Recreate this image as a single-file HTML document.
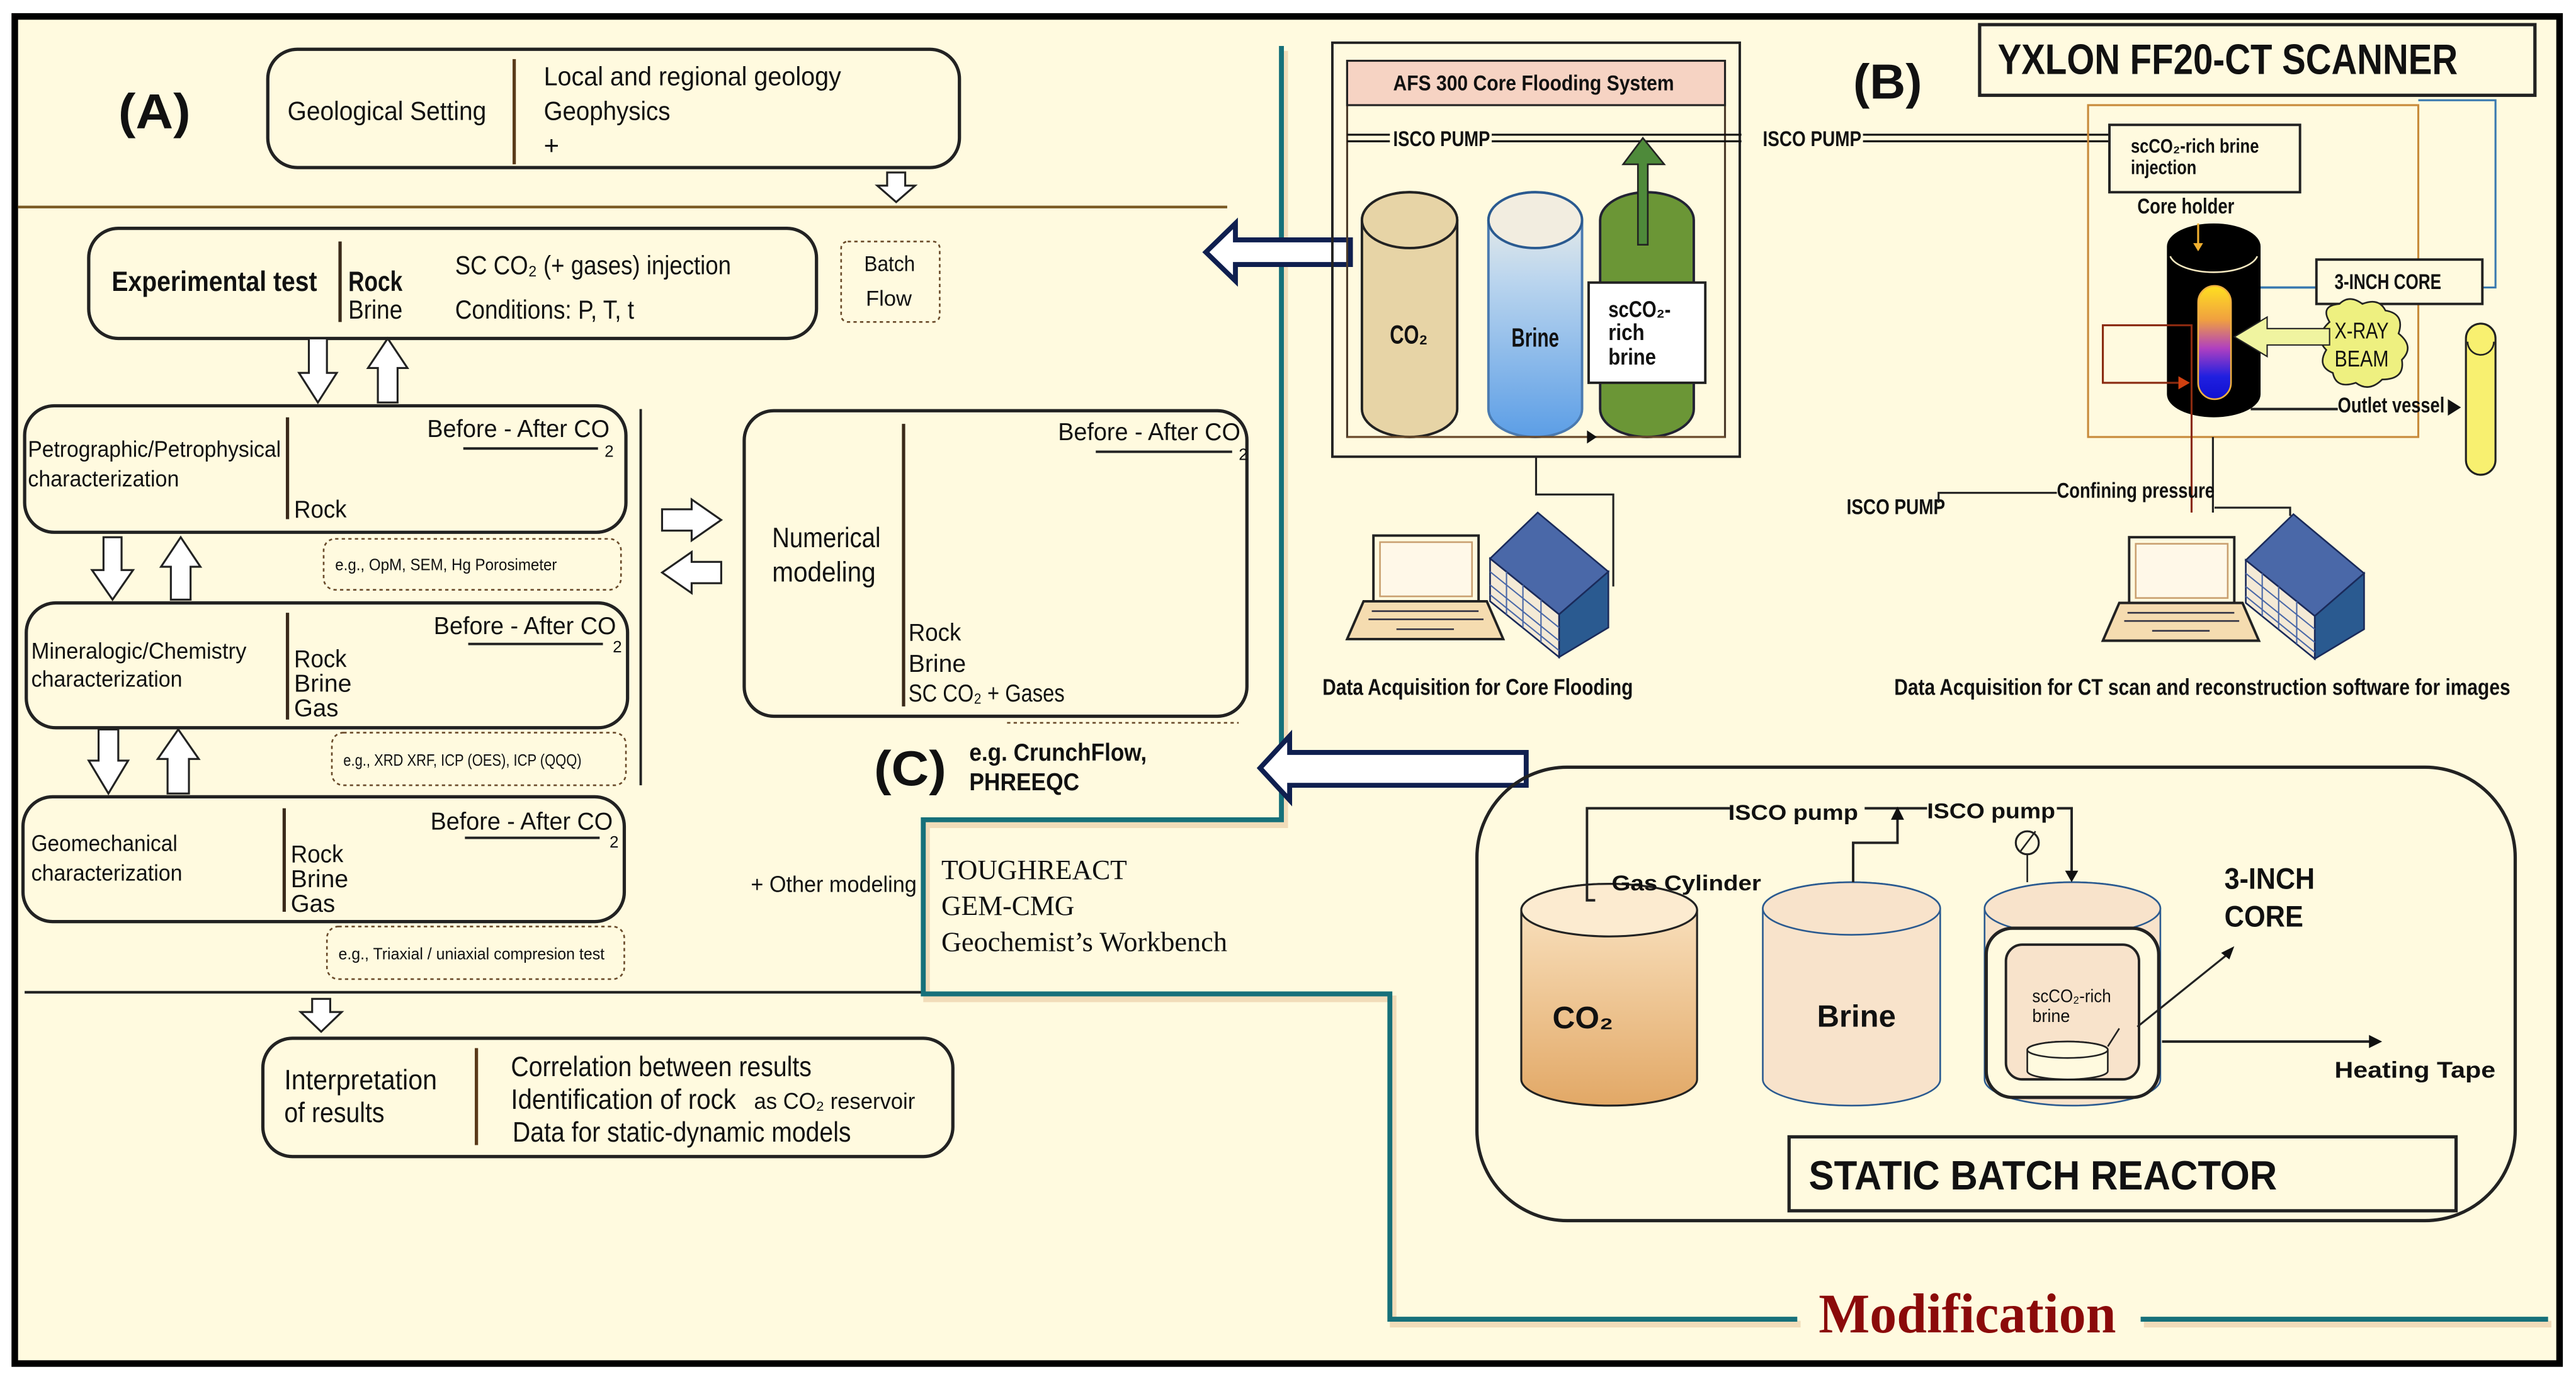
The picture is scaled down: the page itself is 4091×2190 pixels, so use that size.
<!DOCTYPE html>
<html><head><meta charset="utf-8"><style>
html,body{margin:0;padding:0;background:#fff;}
svg{display:block;}
text{font-family:"Liberation Sans",sans-serif;fill:#111;}
.s{font-family:"Liberation Serif",serif;}
.b{font-weight:bold;}
</style></head><body>
<svg xmlns="http://www.w3.org/2000/svg" width="4091" height="2190" viewBox="0 0 1568 839.4" preserveAspectRatio="none">
<defs>
<linearGradient id="gb" x1="0" y1="0" x2="0" y2="1"><stop offset="0" stop-color="#f4f1e6"/><stop offset="0.35" stop-color="#bcd6ee"/><stop offset="1" stop-color="#5c9ee6"/></linearGradient>
<linearGradient id="gc" x1="0" y1="0" x2="0" y2="1"><stop offset="0" stop-color="#fbe6c6"/><stop offset="1" stop-color="#e2a866"/></linearGradient>
<linearGradient id="gk" x1="0" y1="0" x2="0" y2="1"><stop offset="0" stop-color="#ffe020"/><stop offset="0.3" stop-color="#f0a040"/><stop offset="0.55" stop-color="#b040c0"/><stop offset="0.8" stop-color="#2020e0"/><stop offset="1" stop-color="#1010d0"/></linearGradient>
</defs>
<rect x="0" y="0" width="1568" height="839.4" fill="#ffffff"/>
<rect x="9" y="10" width="1549" height="820" fill="#fffadf" stroke="#000" stroke-width="4"/>

<!-- ===== (A) ===== -->
<text x="72" y="78" font-size="30" class="b" textLength="44" lengthAdjust="spacingAndGlyphs">(A)</text>
<rect x="163" y="30" width="421" height="72" rx="18" fill="none" stroke="#222" stroke-width="2"/>
<line x1="313" y1="36" x2="313" y2="100" stroke="#5a3a1a" stroke-width="2"/>
<text x="175" y="73" font-size="16" textLength="121" lengthAdjust="spacingAndGlyphs">Geological Setting</text>
<text x="331" y="52" font-size="16" textLength="181" lengthAdjust="spacingAndGlyphs">Local and regional geology</text>
<text x="331" y="73" font-size="16" textLength="77" lengthAdjust="spacingAndGlyphs">Geophysics</text>
<text x="331" y="94" font-size="16">+</text>
<polygon points="540,105 551,105 551,113 557,113 545.5,123 534,113 540,113" fill="#fff" stroke="#222" stroke-width="1.2"/>
<line x1="11" y1="126" x2="747" y2="126" stroke="#7a5a25" stroke-width="1.6"/>

<!-- Experimental test -->
<rect x="54" y="139" width="443" height="67" rx="18" fill="none" stroke="#222" stroke-width="2"/>
<line x1="207" y1="147" x2="207" y2="196" stroke="#3a2a1a" stroke-width="2"/>
<text x="68" y="177" font-size="17" class="b" textLength="125" lengthAdjust="spacingAndGlyphs">Experimental test</text>
<text x="212" y="177" font-size="17" class="b" textLength="33" lengthAdjust="spacingAndGlyphs">Rock</text>
<text x="212" y="194" font-size="16" textLength="33" lengthAdjust="spacingAndGlyphs">Brine</text>
<text x="277" y="167" font-size="16" textLength="168" lengthAdjust="spacingAndGlyphs">SC CO₂ (+ gases) injection</text>
<text x="277" y="194" font-size="16" textLength="109" lengthAdjust="spacingAndGlyphs">Conditions: P, T, t</text>
<rect x="512" y="147" width="60" height="49" rx="4" fill="none" stroke="#6a4a2a" stroke-width="1" stroke-dasharray="2,2"/>
<text x="526" y="165" font-size="13" textLength="31" lengthAdjust="spacingAndGlyphs">Batch</text>
<text x="527" y="186" font-size="13" textLength="28" lengthAdjust="spacingAndGlyphs">Flow</text>

<polygon points="188,206 199,206 199,227 205,227 193.5,245 182,227 188,227" fill="#fff" stroke="#222" stroke-width="1.2"/>
<polygon points="230,245 242,245 242,224 248,224 236,206 224,224 230,224" fill="#fff" stroke="#222" stroke-width="1.2"/>

<!-- Petrographic -->
<rect x="15" y="247" width="366" height="77" rx="18" fill="none" stroke="#222" stroke-width="2"/>
<line x1="175" y1="254" x2="175" y2="316" stroke="#3a2a1a" stroke-width="2"/>
<text x="17" y="278" font-size="14" textLength="154" lengthAdjust="spacingAndGlyphs">Petrographic/Petrophysical</text>
<text x="17" y="296" font-size="14" textLength="92" lengthAdjust="spacingAndGlyphs">characterization</text>
<text x="179" y="315" font-size="15" textLength="32" lengthAdjust="spacingAndGlyphs">Rock</text>
<text x="260" y="266" font-size="15" textLength="111" lengthAdjust="spacingAndGlyphs">Before - After CO</text>
<line x1="282" y1="273" x2="364" y2="273" stroke="#222" stroke-width="1.5"/>
<text x="368" y="278" font-size="10">2</text>
<rect x="197" y="328" width="181" height="31" rx="7" fill="none" stroke="#6a4a2a" stroke-width="1" stroke-dasharray="2,2"/>
<text x="204" y="347" font-size="10" textLength="135" lengthAdjust="spacingAndGlyphs">e.g., OpM, SEM, Hg Porosimeter</text>

<polygon points="63,327 74,327 74,347 81,347 68.5,365 56,347 63,347" fill="#fff" stroke="#222" stroke-width="1.2"/>
<polygon points="104,365 116,365 116,345 122,345 110,327 98,345 104,345" fill="#fff" stroke="#222" stroke-width="1.2"/>

<!-- Mineralogic -->
<rect x="16" y="367" width="366" height="76" rx="18" fill="none" stroke="#222" stroke-width="2"/>
<line x1="175" y1="373" x2="175" y2="438" stroke="#3a2a1a" stroke-width="2"/>
<text x="19" y="401" font-size="14" textLength="131" lengthAdjust="spacingAndGlyphs">Mineralogic/Chemistry</text>
<text x="19" y="418" font-size="14" textLength="92" lengthAdjust="spacingAndGlyphs">characterization</text>
<text x="179" y="406" font-size="15" textLength="32" lengthAdjust="spacingAndGlyphs">Rock</text>
<text x="179" y="421" font-size="15" textLength="35" lengthAdjust="spacingAndGlyphs">Brine</text>
<text x="179" y="436" font-size="15" textLength="27" lengthAdjust="spacingAndGlyphs">Gas</text>
<text x="264" y="386" font-size="15" textLength="111" lengthAdjust="spacingAndGlyphs">Before - After CO</text>
<line x1="285" y1="392" x2="367" y2="392" stroke="#222" stroke-width="1.5"/>
<text x="373" y="397" font-size="10">2</text>
<rect x="202" y="446" width="179" height="32" rx="7" fill="none" stroke="#6a4a2a" stroke-width="1" stroke-dasharray="2,2"/>
<text x="209" y="466" font-size="10" textLength="145" lengthAdjust="spacingAndGlyphs">e.g., XRD XRF, ICP (OES), ICP (QQQ)</text>
<line x1="390" y1="249" x2="390" y2="478" stroke="#222" stroke-width="1.5"/>

<polygon points="60,444 72,444 72,463 78,463 66,483 54,463 60,463" fill="#fff" stroke="#222" stroke-width="1.2"/>
<polygon points="102,483 115,483 115,462 121,462 108.5,444 96,462 102,462" fill="#fff" stroke="#222" stroke-width="1.2"/>

<!-- Geomechanical -->
<rect x="14" y="485" width="366" height="76" rx="18" fill="none" stroke="#222" stroke-width="2"/>
<line x1="173" y1="492" x2="173" y2="555" stroke="#3a2a1a" stroke-width="2"/>
<text x="19" y="518" font-size="14" textLength="89" lengthAdjust="spacingAndGlyphs">Geomechanical</text>
<text x="19" y="536" font-size="14" textLength="92" lengthAdjust="spacingAndGlyphs">characterization</text>
<text x="177" y="525" font-size="15" textLength="32" lengthAdjust="spacingAndGlyphs">Rock</text>
<text x="177" y="540" font-size="15" textLength="35" lengthAdjust="spacingAndGlyphs">Brine</text>
<text x="177" y="555" font-size="15" textLength="27" lengthAdjust="spacingAndGlyphs">Gas</text>
<text x="262" y="505" font-size="15" textLength="111" lengthAdjust="spacingAndGlyphs">Before - After CO</text>
<line x1="283" y1="510" x2="365" y2="510" stroke="#222" stroke-width="1.5"/>
<text x="371" y="516" font-size="10">2</text>
<rect x="199" y="564" width="181" height="32" rx="7" fill="none" stroke="#6a4a2a" stroke-width="1" stroke-dasharray="2,2"/>
<text x="206" y="584" font-size="10" textLength="162" lengthAdjust="spacingAndGlyphs">e.g., Triaxial / uniaxial compresion test</text>

<line x1="15" y1="604" x2="561" y2="604" stroke="#222" stroke-width="1.6"/>
<polygon points="190,608 201,608 201,616 208,616 195.5,628 183,616 190,616" fill="#fff" stroke="#222" stroke-width="1.2"/>

<!-- Interpretation -->
<rect x="160" y="632" width="420" height="72" rx="18" fill="none" stroke="#222" stroke-width="2"/>
<line x1="290" y1="638" x2="290" y2="697" stroke="#5a3a1a" stroke-width="2"/>
<text x="173" y="663" font-size="17" textLength="93" lengthAdjust="spacingAndGlyphs">Interpretation</text>
<text x="173" y="683" font-size="17" textLength="61" lengthAdjust="spacingAndGlyphs">of results</text>
<text x="311" y="655" font-size="17" textLength="183" lengthAdjust="spacingAndGlyphs">Correlation between results</text>
<text x="311" y="675" font-size="17" textLength="137" lengthAdjust="spacingAndGlyphs">Identification of rock</text>
<text x="459" y="675" font-size="14" textLength="98" lengthAdjust="spacingAndGlyphs">as CO₂ reservoir</text>
<text x="312" y="695" font-size="17" textLength="206" lengthAdjust="spacingAndGlyphs">Data for static-dynamic models</text>

<!-- Numerical modeling -->
<rect x="453" y="250" width="306" height="186" rx="18" fill="none" stroke="#222" stroke-width="2"/>
<line x1="550" y1="258" x2="550" y2="430" stroke="#3a2a1a" stroke-width="2"/>
<text x="470" y="333" font-size="17" textLength="66" lengthAdjust="spacingAndGlyphs">Numerical</text>
<text x="470" y="354" font-size="17" textLength="63" lengthAdjust="spacingAndGlyphs">modeling</text>
<text x="644" y="268" font-size="15" textLength="111" lengthAdjust="spacingAndGlyphs">Before - After CO</text>
<line x1="667" y1="275" x2="750" y2="275" stroke="#222" stroke-width="1.5"/>
<text x="754" y="280" font-size="10">2</text>
<text x="553" y="390" font-size="15" textLength="32" lengthAdjust="spacingAndGlyphs">Rock</text>
<text x="553" y="409" font-size="15" textLength="35" lengthAdjust="spacingAndGlyphs">Brine</text>
<text x="553" y="427" font-size="15" textLength="95" lengthAdjust="spacingAndGlyphs">SC CO₂ + Gases</text>
<line x1="613" y1="440" x2="754" y2="440" stroke="#6a4a2a" stroke-width="1" stroke-dasharray="2,2"/>

<polygon points="403,310 421,310 421,304 439,316.5 421,329 421,323 403,323" fill="#fff" stroke="#222" stroke-width="1.2"/>
<polygon points="439,342 421,342 421,336 403,348.5 421,361 421,355 439,355" fill="#fff" stroke="#222" stroke-width="1.2"/>

<!-- (C) -->
<text x="532" y="478" font-size="30" class="b" textLength="44" lengthAdjust="spacingAndGlyphs">(C)</text>
<text x="590" y="463" font-size="15" class="b" textLength="108" lengthAdjust="spacingAndGlyphs">e.g. CrunchFlow,</text>
<text x="590" y="481" font-size="15" class="b" textLength="67" lengthAdjust="spacingAndGlyphs">PHREEQC</text>
<text x="457" y="543" font-size="14" textLength="101" lengthAdjust="spacingAndGlyphs">+ Other modeling</text>
<text x="573" y="535" font-size="17" class="s" textLength="113" lengthAdjust="spacingAndGlyphs">TOUGHREACT</text>
<text x="573" y="557" font-size="17" class="s" textLength="81" lengthAdjust="spacingAndGlyphs">GEM-CMG</text>
<text x="573" y="579" font-size="17" class="s" textLength="174" lengthAdjust="spacingAndGlyphs">Geochemist’s Workbench</text>

<!-- teal line -->
<polyline points="780,28 780,499 562,499 562,605 846,605 846,803 1094,803" fill="none" stroke="#e8c8a0" stroke-width="4" transform="translate(2,3)" opacity="0.6"/>
<polyline points="780,28 780,499 562,499 562,605 846,605 846,803 1094,803" fill="none" stroke="#16707a" stroke-width="3"/>
<line x1="1303" y1="803" x2="1551" y2="803" stroke="#e8c8a0" stroke-width="4" transform="translate(2,3)" opacity="0.6"/>
<line x1="1303" y1="803" x2="1551" y2="803" stroke="#16707a" stroke-width="3"/>
<text x="1107" y="811" font-size="34" class="s b" style="fill:#8b0a0a" textLength="181" lengthAdjust="spacingAndGlyphs">Modification</text>

<!-- big navy arrows -->
<polygon points="822,146 752,146 752,136 734,153.5 752,171 752,161 822,161" fill="#fff" stroke="#0f1f4f" stroke-width="3"/>
<polygon points="929,458 785,458 785,448 767,467.5 785,487 785,478 929,478" fill="#fff" stroke="#0f1f4f" stroke-width="3"/>

<!-- ===== (B) ===== -->
<text x="1128" y="60" font-size="30" class="b" textLength="42" lengthAdjust="spacingAndGlyphs">(B)</text>
<rect x="811" y="26" width="248" height="252" fill="none" stroke="#222" stroke-width="1.5"/>
<rect x="820" y="37" width="230" height="229" fill="none" stroke="#4a3a2a" stroke-width="1.2"/>
<rect x="820" y="37" width="230" height="27" fill="#f6d3c3" stroke="#222" stroke-width="1.2"/>
<text x="848" y="55" font-size="13" class="b" textLength="171" lengthAdjust="spacingAndGlyphs">AFS 300 Core Flooding System</text>
<line x1="820" y1="82" x2="1060" y2="82" stroke="#111" stroke-width="1.2"/>
<line x1="820" y1="86" x2="1060" y2="86" stroke="#111" stroke-width="1.2"/>
<rect x="846" y="77" width="62" height="14" fill="#fffadf"/>
<text x="848" y="89" font-size="13" class="b" textLength="59" lengthAdjust="spacingAndGlyphs">ISCO PUMP</text>
<text x="1073" y="89" font-size="13" class="b" textLength="60" lengthAdjust="spacingAndGlyphs">ISCO PUMP</text>
<line x1="1134" y1="82" x2="1284" y2="82" stroke="#111" stroke-width="1.2"/>
<line x1="1134" y1="86" x2="1284" y2="86" stroke="#111" stroke-width="1.2"/>

<!-- cylinders AFS -->
<path d="M829,134 A29,17 0 0 1 887,134 L887,249 A29,17 0 0 1 829,249 Z" fill="#e7d4a6" stroke="#222" stroke-width="1.5"/>
<ellipse cx="858" cy="134" rx="29" ry="17" fill="#e7d4a6" stroke="#222" stroke-width="1.5"/>
<path d="M906,134 A28.5,17 0 0 1 963,134 L963,249 A28.5,17 0 0 1 906,249 Z" fill="url(#gb)" stroke="#4a7ab0" stroke-width="1.5"/>
<ellipse cx="934.5" cy="134" rx="28.5" ry="17" fill="#f2ede0" stroke="#2a5a90" stroke-width="1.5"/>
<path d="M974,134 A28.5,17 0 0 1 1031,134 L1031,249 A28.5,17 0 0 1 974,249 Z" fill="#6b9636" stroke="#223" stroke-width="1.5"/>
<polygon points="997,149 1003,149 1003,100 1013,100 1000,84 988,100 997,100" fill="#4e8a3a" stroke="#222" stroke-width="1"/>
<rect x="967" y="172" width="71" height="61" fill="#fff" stroke="#222" stroke-width="1.5"/>
<text x="979" y="193" font-size="14" class="b" textLength="38" lengthAdjust="spacingAndGlyphs">scCO₂-</text>
<text x="979" y="207" font-size="14" class="b" textLength="22" lengthAdjust="spacingAndGlyphs">rich</text>
<text x="979" y="222" font-size="14" class="b" textLength="29" lengthAdjust="spacingAndGlyphs">brine</text>
<text x="846" y="209" font-size="16" class="b" textLength="23" lengthAdjust="spacingAndGlyphs">CO₂</text>
<text x="920" y="211" font-size="16" class="b" textLength="29" lengthAdjust="spacingAndGlyphs">Brine</text>
<line x1="820" y1="266" x2="1050" y2="266" stroke="#6a4a2a" stroke-width="1.2"/>
<polygon points="966,262 972,266 966,270" fill="#111"/>
<polyline points="935,278 935,301 982,301 982,357" fill="none" stroke="#222" stroke-width="1.2"/>

<!-- laptop + server 1 -->
<g id="ls">
<rect x="836" y="326" width="64" height="40" fill="#fffadf" stroke="#222" stroke-width="1.5"/>
<rect x="840" y="330" width="56" height="33" fill="#fff8e8" stroke="#c9a070" stroke-width="1"/>
<polygon points="830,366 905,366 915,389 820,389" fill="#f5dcb0" stroke="#222" stroke-width="1.5"/>
<line x1="835" y1="372" x2="900" y2="372" stroke="#334" stroke-width="1"/>
<line x1="833" y1="377" x2="903" y2="377" stroke="#334" stroke-width="1"/>
<line x1="850" y1="383" x2="885" y2="383" stroke="#334" stroke-width="1"/>
<polygon points="907,340 936,312 979,348 949,374" fill="#4a68a8" stroke="#1a2a5a" stroke-width="1"/>
<polygon points="949,374 979,348 979,382 949,400" fill="#2a5a90" stroke="#1a2a5a" stroke-width="1"/>
<polygon points="907,340 949,374 949,400 907,366" fill="#f4ead6" stroke="#1a2a5a" stroke-width="1"/>
<g stroke="#4a68a8" stroke-width="0.8">
<line x1="907" y1="348" x2="949" y2="382"/><line x1="907" y1="356" x2="949" y2="390"/><line x1="907" y1="362" x2="949" y2="396"/>
<line x1="917" y1="348" x2="917" y2="374"/><line x1="927" y1="356" x2="927" y2="382"/><line x1="938" y1="365" x2="938" y2="391"/>
</g>
</g>
<use href="#ls" transform="translate(460,1)"/>
<text x="805" y="423" font-size="14" class="b" textLength="189" lengthAdjust="spacingAndGlyphs">Data Acquisition for Core Flooding</text>
<text x="1153" y="423" font-size="14" class="b" textLength="375" lengthAdjust="spacingAndGlyphs">Data Acquisition for CT scan and reconstruction software for images</text>

<!-- YXLON -->
<rect x="1205" y="15" width="338" height="43" fill="#fffadf" stroke="#222" stroke-width="2"/>
<text x="1216" y="45" font-size="26" class="b" textLength="280" lengthAdjust="spacingAndGlyphs">YXLON FF20-CT SCANNER</text>
<rect x="1271" y="64" width="201" height="202" fill="none" stroke="#c88a3a" stroke-width="1.2"/>
<polyline points="1472,61 1519,61 1519,175 1511,175" fill="none" stroke="#3a7ab0" stroke-width="1.2"/>
<polyline points="1410,175 1360,175 1360,191" fill="none" stroke="#3a7ab0" stroke-width="1.4"/>
<polygon points="1356,186 1364,186 1360,193" fill="#4a9ae0"/>
<rect x="1284" y="76" width="116" height="41" fill="#fffadf" stroke="#222" stroke-width="1.5"/>
<text x="1297" y="93" font-size="12" class="b" textLength="78" lengthAdjust="spacingAndGlyphs">scCO₂-rich brine</text>
<text x="1297" y="106" font-size="12" class="b" textLength="40" lengthAdjust="spacingAndGlyphs">injection</text>
<text x="1301" y="130" font-size="13" class="b" textLength="59" lengthAdjust="spacingAndGlyphs">Core holder</text>
<!-- core holder -->
<path d="M1319,150 A28.5,14 0 0 1 1376,150 L1376,240 A28.5,14 0 0 1 1319,240 Z" fill="#000"/>
<path d="M1321,156 A27,12 0 0 0 1374,156" fill="none" stroke="#f5e8c0" stroke-width="1"/>
<line x1="1338" y1="136" x2="1338" y2="150" stroke="#f0b030" stroke-width="1.2"/>
<polygon points="1335,148 1341,148 1338,153" fill="#f0b030"/>
<rect x="1338" y="174" width="20" height="69" rx="10" fill="url(#gk)" stroke="#f0b040" stroke-width="1"/>
<polyline points="1334,312 1334,198 1280,198 1280,233 1326,233" fill="none" stroke="#8a2a10" stroke-width="1.2"/>
<polygon points="1326,229 1333,233 1326,237" fill="#d04010"/>
<line x1="1347" y1="266" x2="1347" y2="312" stroke="#222" stroke-width="1.2"/>
<rect x="1410" y="158" width="101" height="27" fill="#fffadf" stroke="#222" stroke-width="1.5"/>
<text x="1421" y="176" font-size="13" class="b" textLength="65" lengthAdjust="spacingAndGlyphs">3-INCH CORE</text>
<path d="M1418,196 q-6,-10 6,-11 q6,-6 14,0 q10,-4 14,4 q12,2 8,14 q10,8 2,16 q2,12 -12,12 q-8,8 -16,2 q-12,4 -14,-6 q-10,-4 -4,-14 q-8,-8 2,-17 z" fill="#eef080" stroke="#222" stroke-width="1"/>
<polygon points="1418,200 1380,200 1380,193 1360,205 1380,217 1380,210 1418,210" fill="#f0f4a0" stroke="#222" stroke-width="0.8"/>
<text x="1421" y="206" font-size="14" textLength="33" lengthAdjust="spacingAndGlyphs">X-RAY</text>
<text x="1421" y="223" font-size="14" textLength="33" lengthAdjust="spacingAndGlyphs">BEAM</text>
<polyline points="1370,249 1423,249" fill="none" stroke="#222" stroke-width="1.5"/>
<text x="1423" y="251" font-size="13" class="b" textLength="65" lengthAdjust="spacingAndGlyphs">Outlet vessel</text>
<polygon points="1490,243 1498,248 1490,253" fill="#111"/>
<rect x="1501" y="197" width="18" height="92" rx="9" fill="#f8f070" stroke="#222" stroke-width="1.2"/>
<path d="M1502,208 A8,8 0 0 0 1518,208" fill="none" stroke="#222" stroke-width="1"/>
<text x="1124" y="313" font-size="13" class="b" textLength="60" lengthAdjust="spacingAndGlyphs">ISCO PUMP</text>
<polyline points="1180,306 1180,300 1252,300" fill="none" stroke="#222" stroke-width="1.2"/>
<text x="1252" y="303" font-size="13" class="b" textLength="96" lengthAdjust="spacingAndGlyphs">Confining pressure</text>
<polyline points="1348,309 1394,309 1394,314" fill="none" stroke="#222" stroke-width="1.2"/>

<!-- Static batch reactor -->
<rect x="899" y="467" width="632" height="276" rx="55" fill="none" stroke="#222" stroke-width="2"/>
<path d="M926,554 A53.5,16 0 0 1 1033,554 L1033,657 A53.5,16 0 0 1 926,657 Z" fill="url(#gc)" stroke="#222" stroke-width="1.2"/>
<ellipse cx="979.5" cy="554" rx="53.5" ry="16" fill="#fcebd0" stroke="#222" stroke-width="1.2"/>
<path d="M1073,553 A54,16 0 0 1 1181,553 L1181,657 A54,16 0 0 1 1073,657 Z" fill="#f8e3cb" stroke="#2a5a90" stroke-width="1"/>
<ellipse cx="1127" cy="553" rx="54" ry="16" fill="#f8e3cb" stroke="#2a5a90" stroke-width="1"/>
<path d="M1208,553 A53.5,16 0 0 1 1315,553 L1315,657 A53.5,16 0 0 1 1208,657 Z" fill="#f8e3cb" stroke="#2a5a90" stroke-width="1"/>
<ellipse cx="1261.5" cy="553" rx="53.5" ry="16" fill="#f8e3cb" stroke="#2a5a90" stroke-width="1"/>
<rect x="1209" y="565" width="105" height="103" rx="16" fill="#fffadf" stroke="#222" stroke-width="2"/>
<rect x="1221" y="575" width="81" height="82" rx="10" fill="#f8e3cb" stroke="#222" stroke-width="1.5"/>
<path d="M1234,639 A24.5,5 0 0 1 1283,639 L1283,652 A24.5,5 0 0 1 1234,652 Z" fill="#fffadf" stroke="#222" stroke-width="1"/>
<ellipse cx="1258.5" cy="639" rx="24.5" ry="5" fill="#fffadf" stroke="#222" stroke-width="1"/>
<text x="1237" y="610" font-size="11" textLength="48" lengthAdjust="spacingAndGlyphs">scCO₂-rich</text>
<text x="1237" y="622" font-size="11" textLength="23" lengthAdjust="spacingAndGlyphs">brine</text>
<line x1="1283" y1="637" x2="1290" y2="626" stroke="#222" stroke-width="1"/>
<text x="945" y="626" font-size="19" class="b" textLength="37" lengthAdjust="spacingAndGlyphs">CO₂</text>
<text x="1106" y="625" font-size="19" class="b" textLength="48" lengthAdjust="spacingAndGlyphs">Brine</text>
<polyline points="971,548 966,548 966,492 1053,492" fill="none" stroke="#222" stroke-width="1.5"/>
<text x="981" y="542" font-size="13" class="b" textLength="91" lengthAdjust="spacingAndGlyphs">Gas Cylinder</text>
<text x="1052" y="499" font-size="13" class="b" textLength="79" lengthAdjust="spacingAndGlyphs">ISCO pump</text>
<line x1="1135" y1="492" x2="1173" y2="492" stroke="#222" stroke-width="1.5"/>
<polyline points="1128,537 1128,513 1155,513 1155,495" fill="none" stroke="#222" stroke-width="1.5"/>
<polygon points="1151,499 1155,491 1159,499" fill="#111"/>
<text x="1173" y="498" font-size="13" class="b" textLength="78" lengthAdjust="spacingAndGlyphs">ISCO pump</text>
<polyline points="1252,492 1261,492 1261,532" fill="none" stroke="#222" stroke-width="1.5"/>
<polygon points="1257,530 1261,537 1265,530" fill="#111"/>
<circle cx="1234" cy="513" r="7" fill="#fffadf" stroke="#222" stroke-width="1.2"/>
<line x1="1230" y1="518" x2="1239" y2="506" stroke="#222" stroke-width="1"/>
<line x1="1234" y1="520" x2="1234" y2="537" stroke="#222" stroke-width="1"/>
<text x="1354" y="541" font-size="18" class="b" textLength="55" lengthAdjust="spacingAndGlyphs">3-INCH</text>
<text x="1354" y="564" font-size="18" class="b" textLength="48" lengthAdjust="spacingAndGlyphs">CORE</text>
<line x1="1301" y1="625" x2="1357" y2="580" stroke="#222" stroke-width="1.2"/>
<polygon points="1352,580 1360,576 1357,584" fill="#111"/>
<line x1="1316" y1="634" x2="1445" y2="634" stroke="#222" stroke-width="1.5"/>
<polygon points="1442,630 1450,634 1442,638" fill="#111"/>
<text x="1421" y="656" font-size="14" class="b" textLength="98" lengthAdjust="spacingAndGlyphs">Heating Tape</text>
<rect x="1089" y="692" width="406" height="45" fill="none" stroke="#222" stroke-width="2"/>
<text x="1101" y="724" font-size="25" class="b" textLength="285" lengthAdjust="spacingAndGlyphs">STATIC BATCH REACTOR</text>
</svg>
</body></html>
